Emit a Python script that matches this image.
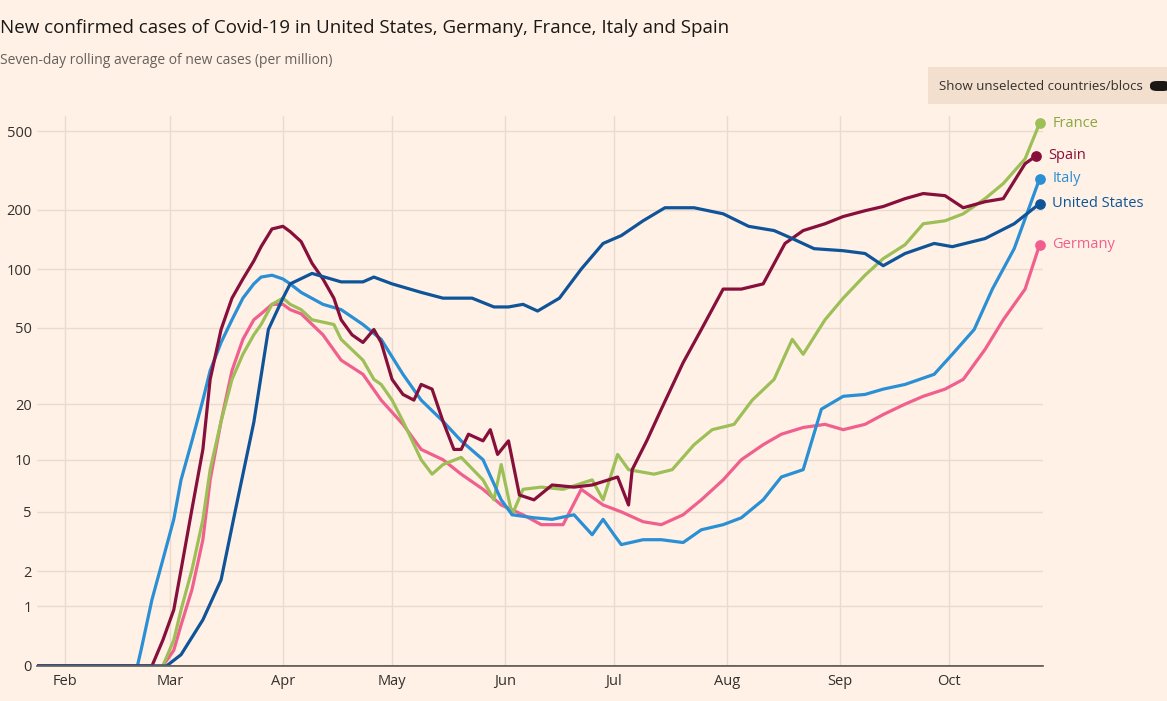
import numpy as np, pandas as pd, matplotlib
matplotlib.use("Agg")
import matplotlib.pyplot as plt, seaborn as sns
from matplotlib.patches import FancyBboxPatch, Rectangle

base = pd.Timestamp("2020-02-01")
us_days = [-8,28,32,38,43,47,52,56,60,62,68,76,82,85,90,98,104,112,118,122,126,130,136,142,148,153,159,165,173,181,188,195,200,206,214,220,225,231,239,244,253,261,268]
us_vals = [0,0,0.14,0.71,1.72,5.2,16,49,71,84,95,86,86,91,84,76,71,71,64,64,66,61,71,100,135,148,176,205,205,191,165,157,143,127,124,120,104,120,135,130,143,170,215]
it_days = [-8,20,21,24,27,30,32,35,38,40,43,46,49,52,54,57,60,62,65,71,76,82,87,93,98,104,109,115,120,123,129,134,140,145,148,151,153,159,164,170,175,181,186,192,197,203,208,214,220,225,231,239,244,250,255,261,266,268]
it_vals = [0,0,0.2,1.16,2.44,4.5,7.7,12.7,21,30,42,55,71,84,91,93,89,84,76,66,62,52,43.6,28.7,21,16.2,12.7,10,5.9,4.8,4.6,4.5,4.8,3.6,4.5,3.6,3.1,3.34,3.34,3.2,3.87,4.17,4.6,5.9,8,8.8,18.8,22,22.5,24,25.4,28.7,36.5,49,79,127,228,288]
es_days = [-8,24,27,30,32,35,38,40,43,46,49,52,54,57,60,62,65,68,71,74,76,79,82,85,87,90,93,96,98,101,104,107,109,111,115,117,119,122,125,129,134,140,145,152,155,156,160,164,170,175,181,186,192,198,203,209,214,220,225,231,236,242,247,253,258,264,267]
es_vals = [0,0,0.35,0.92,2.06,5.2,11.4,27,49,71,89,110,130,160,165,155,138,107,89,71,55,46,42,49,42,27,22.5,21,25.4,24,16.2,11.4,11.4,13.8,12.7,14.6,10.7,12.7,6.3,5.9,7.2,7,7.2,8,5.5,8.8,12.7,18.8,33,49,79,79,84,135,157,170,185,198,208,228,242,236,205,220,228,343,375]
fr_days = [-8,27,30,32,35,38,40,43,46,49,52,54,57,60,62,65,68,74,76,82,85,87,90,93,98,101,104,109,115,118,120,123,126,131,137,145,148,152,155,162,167,173,178,184,189,195,200,203,209,214,220,225,231,236,242,247,253,258,264,268]
fr_vals = [0,0,0.35,0.92,2.06,4.48,8.8,16.2,27,36.5,46,52,66,71,66,62,55,52,43.6,34,27,25.4,21,16.2,10,8.3,9.4,10.3,7.7,5.9,9.4,4.8,6.8,7,6.8,7.7,5.9,10.7,8.8,8.3,8.8,12.1,14.6,15.6,21,27,43.6,36.5,55,71,93,113,133,170,176,191,228,272,363,550]
de_days = [-8,27,30,32,35,38,40,43,46,49,52,54,57,60,62,65,71,76,82,87,93,98,104,109,115,120,126,131,137,142,148,153,159,164,170,175,181,186,192,197,203,209,214,220,225,231,236,242,247,253,258,264,268]
de_vals = [0,0,0.2,0.61,1.43,3.34,7.7,16.2,30,43.6,55,59,66,66,62,59,46,34,28.7,21,15.6,11.4,10,8.3,6.8,5.5,4.8,4.17,4.17,6.8,5.5,5,4.35,4.17,4.8,5.9,7.7,10,12.1,13.8,15,15.6,14.6,15.6,17.6,20,22,24,27,38.7,55,79,133]

series = {"United States": (us_days, us_vals), "Italy": (it_days, it_vals), "Spain": (es_days, es_vals),
          "France": (fr_days, fr_vals), "Germany": (de_days, de_vals)}
colors = {"United States": "#0f5499", "Italy": "#2a8fd4", "Spain": "#870f3b", "France": "#9dbf57", "Germany": "#f0608e"}
text_colors = {"United States": "#0f5499", "Italy": "#2a8fd4", "Spain": "#870f3b", "France": "#8aa83f", "Germany": "#f0608e"}

rows = []
for name, (d, v) in series.items():
    for di, vi in zip(d, v):
        rows.append({"date": base + pd.Timedelta(days=di), "value": vi, "country": name})
df = pd.DataFrame(rows)

bg = "#fff1e5"
sns.set_theme(style="white")
plt.rcParams["font.family"] = ["Open Sans", "DejaVu Sans"]
fig = plt.figure(figsize=(11.67, 7.01), dpi=100, facecolor=bg)
ax = fig.add_axes([0.032, 0.05, 0.862, 0.785], facecolor=bg)
ax.set_yscale("function", functions=(lambda y: np.log10(1 + np.clip(y, 0, None)), lambda y: 10 ** y - 1))
sns.lineplot(data=df, x="date", y="value", hue="country", palette=colors, linewidth=2.3, legend=False, ax=ax,
             hue_order=["Germany", "France", "Italy", "Spain", "United States"])
ax.set_ylim(0, 600)
ax.set_xlim(base - pd.Timedelta(days=7.5), base + pd.Timedelta(days=269))
yt = [0, 1, 2, 5, 10, 20, 50, 100, 200, 500]
ax.set_yticks(yt)
ax.set_yticklabels([str(t) for t in yt])
months = pd.date_range("2020-02-01", "2020-10-01", freq="MS")
ax.set_xticks(months)
ax.set_xticklabels([m.strftime("%b") for m in months])
ax.grid(True, color="#e9dccf", linewidth=1)
for s in ["top", "right", "left"]:
    ax.spines[s].set_visible(False)
ax.spines["bottom"].set_color("#66605c")
ax.axhline(0, color="#66605c", lw=1.2)
ax.tick_params(axis="both", labelsize=10.5, colors="#66605c", length=0, pad=6)
ax.tick_params(axis="y", pad=4)
for lab in ax.get_yticklabels() + ax.get_xticklabels():
    lab.set_color("#33302e")
ax.set_xlabel(""); ax.set_ylabel("")

for name, (d, v) in series.items():
    x = base + pd.Timedelta(days=d[-1])
    ax.scatter([x], [v[-1]], s=45, color=colors[name], zorder=5, clip_on=False)
    ax.annotate(name, (x, v[-1]), xytext=(9, 0), textcoords="offset points", va="center",
                fontsize=10.5, color=text_colors[name], annotation_clip=False)

fig.text(0.0, 0.96, "New confirmed cases of Covid-19 in United States, Germany, France, Italy and Spain",
         fontsize=13.5, color="#1a1817", va="center")
fig.text(0.0, 0.914, "Seven-day rolling average of new cases (per million)", fontsize=10, color="#66605c", va="center")
fig.patches.append(Rectangle((928 / 1167, 1 - 104 / 701), 239 / 1167, 37 / 701, transform=fig.transFigure,
                             facecolor="#f2dfce", edgecolor="none"))
fig.text(939 / 1167, 1 - 86 / 701, "Show unselected countries/blocs", fontsize=9.5, color="#33302e", va="center")
fig.patches.append(FancyBboxPatch((1150 / 1167, 1 - 91 / 701), 20 / 1167, 10 / 701, boxstyle="round,pad=0,rounding_size=0.006",
                                  transform=fig.transFigure, facecolor="#1a1817", edgecolor="none"))
fig.savefig("out.png", dpi=100, facecolor=bg)
